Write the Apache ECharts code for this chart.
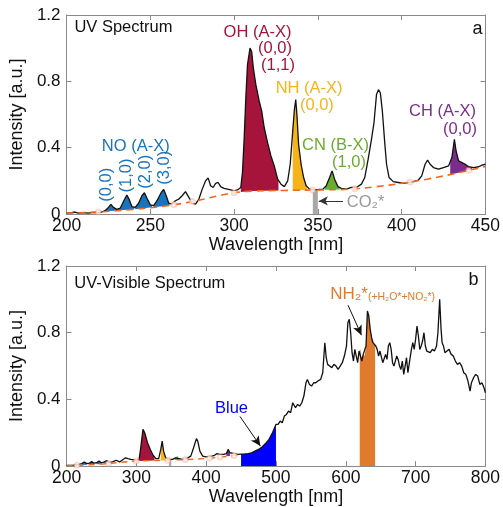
<!DOCTYPE html>
<html><head><meta charset="utf-8">
<script src="https://cdn.jsdelivr.net/npm/echarts@6/dist/echarts.min.js"></script>
<style>html,body{margin:0;padding:0;background:#fff}#c{width:503px;height:507px}</style>
</head><body><div id="c"></div>
<script>
// ---------- Panel a: UV spectrum ----------
const wavelengthA = [200,203,205,207,210,213,216,219,221,223,225,226.5,228,230,232,234,236,237.5,239,241,243,245,246.5,248,250,252,254,256.5,258,259.5,261,263,265,267,269,271,273,275,277,279,281,283,284.5,286,287.5,289,290.5,292,294,296,298,300,302,304,305,306,307,308,309.5,310.5,311.5,313,315,316.5,318,320,322,324,326,328,330,332,333.5,335,336,336.8,337.5,338.5,340,341.5,343,345,348,351,353,355,357,358.5,360,362,364,367,370,373,376,378,380,382,383.5,385,386.2,387.3,388.5,390,391,392.5,395,398,401,404,407,410,412,414,415.5,417,419,422,425,428,430,431.5,432.5,434,436,438,440,443,446,448,450];
const intensityA = [0.005,0.008,0.012,0.006,0.008,0.005,0.01,0.008,0.012,0.02,0.04,0.058,0.04,0.028,0.035,0.075,0.115,0.085,0.045,0.04,0.065,0.11,0.128,0.095,0.055,0.05,0.08,0.13,0.148,0.11,0.065,0.06,0.08,0.09,0.11,0.135,0.1,0.065,0.06,0.09,0.15,0.2,0.218,0.17,0.16,0.185,0.19,0.165,0.155,0.15,0.145,0.14,0.145,0.16,0.25,0.45,0.7,0.9,1.0,0.98,0.88,0.78,0.68,0.62,0.52,0.43,0.35,0.29,0.21,0.18,0.165,0.2,0.3,0.5,0.63,0.69,0.6,0.42,0.3,0.22,0.17,0.15,0.145,0.148,0.15,0.17,0.22,0.26,0.21,0.165,0.155,0.15,0.16,0.16,0.18,0.22,0.33,0.45,0.55,0.72,0.75,0.73,0.62,0.42,0.3,0.22,0.195,0.19,0.185,0.19,0.195,0.205,0.23,0.3,0.325,0.3,0.28,0.27,0.28,0.29,0.34,0.45,0.38,0.32,0.31,0.3,0.285,0.28,0.285,0.295,0.3];
const baselineAx = [200,220,240,260,275,290,300,310,330,350,370,385,400,415,430,450];
const baselineAy = [0.005,0.013,0.028,0.05,0.075,0.108,0.128,0.138,0.142,0.145,0.15,0.165,0.185,0.21,0.24,0.287];
const anchorAx = [219,264,275,300,347,372,405,440];
// band ranges [lo, hi] in nm
const bandNO = [[222,230.6],[230.6,240.5],[241,251],[252,261.5]];
const bandOH = [304,326.5];
const bandNH = [335,343.5];
const bandCN = [354,363];
const bandCH = [429,442];
const bandCO2 = [347,350];

// ---------- Panel b: UV-Visible spectrum ----------
const wavelengthB = [200,210,218,222,225.5,229,233,236,239,243,246.5,250,254,257.5,261,266,271,276,281,284.5,288,292,300,304,306,309.5,312,316,320,324,328,332,335,337,339,342,346,352,356,358.5,361,366,372,378,382,386,388,391,395,400,408,412,415.5,419,425,429,431.5,434,440,446,450,455,460,465,470,475,480,485,490,495,500,503,506,509,512,515,518,521,524,526,528,531,534,537,540,543,545,548,551,554,557,560,564,567,570,572,574,577,580,583,586,589,592,595,598,601,603,605,607,609,611,613,615,617,619,621,623,625,627,629,631,633,635,637,639,641,643,645,647,649,651,653,655,657,659,661,663,665,667,669,671,673,675,677,679,681,683,685,687,689,691,694,696,698,700,702,704,706,708,710,712,714,716,718,721,724,727,730,732,734.5,736.5,738,740,742,745,748,751,754,757,760,763,766,769,772,775,778,780,783,786,789,792,795,798,800];
const intensityB = [0.004,0.006,0.01,0.015,0.025,0.015,0.018,0.027,0.018,0.02,0.03,0.02,0.025,0.033,0.022,0.025,0.035,0.025,0.04,0.05,0.045,0.04,0.035,0.04,0.1,0.22,0.2,0.14,0.1,0.065,0.045,0.045,0.1,0.15,0.09,0.05,0.04,0.04,0.05,0.06,0.045,0.04,0.045,0.06,0.11,0.165,0.15,0.09,0.06,0.055,0.06,0.065,0.075,0.07,0.07,0.075,0.1,0.08,0.075,0.07,0.072,0.073,0.075,0.08,0.09,0.1,0.115,0.135,0.16,0.2,0.25,0.25,0.27,0.26,0.3,0.31,0.33,0.32,0.38,0.39,0.35,0.37,0.36,0.38,0.42,0.5,0.52,0.49,0.48,0.5,0.5,0.51,0.52,0.56,0.74,0.65,0.61,0.6,0.59,0.61,0.6,0.58,0.6,0.62,0.66,0.72,0.86,0.88,0.8,0.68,0.63,0.7,0.66,0.62,0.69,0.7,0.63,0.67,0.66,0.72,0.93,0.9,0.82,0.77,0.74,0.73,0.72,0.7,0.66,0.69,0.7,0.62,0.63,0.67,0.64,0.72,0.74,0.7,0.62,0.6,0.6,0.66,0.64,0.6,0.58,0.63,0.55,0.6,0.65,0.56,0.55,0.7,0.74,0.7,0.76,0.84,0.78,0.7,0.72,0.75,0.8,0.72,0.69,0.7,0.68,0.7,0.69,0.72,0.8,1.0,0.82,0.74,0.72,0.68,0.69,0.7,0.67,0.66,0.63,0.61,0.62,0.6,0.56,0.55,0.51,0.45,0.5,0.53,0.55,0.54,0.49,0.5,0.47,0.44];
const baselineBx = [200,250,300,350,400,445];
const baselineBy = [0.002,0.012,0.03,0.036,0.046,0.066];
const anchorBx = [215,260,300,345,370,405,420,440];
const bandNOb = [[222,229],[233,239],[243,250],[254,261]];
const bandOHb = [304,326];
const bandNHb = [335,342];
const bandCNb = [355,361];
const bandCHb = [429,434];
const bandCO2b = [347,350];
const bandBlue = [450,500];
const bandNH2 = [620,642];

// ---------- colours ----------
const C = {NO:'#1a74bd', OH:'#a6143c', NH:'#f6b41a', CN:'#6cac2d', CH:'#7e2b8e', CO2:'#a8a8a8', BLUE:'#0000ff', NH2:'#e07a2c', BASE:'#f2651f'};
const FONT = 'Liberation Sans, Arial, Helvetica, sans-serif';

function interp(xs, ys, x){
  if (x <= xs[0]) return ys[0];
  for (let i=1;i<xs.length;i++){
    if (x <= xs[i]){ const t=(x-xs[i-1])/(xs[i]-xs[i-1]); return ys[i-1]+t*(ys[i]-ys[i-1]); }
  }
  return ys[ys.length-1];
}
function bandPoly(xs, ys, lo, hi, bxs, bys){
  const top=[[lo,interp(xs,ys,lo)]];
  for(let i=0;i<xs.length;i++){ if(xs[i]>lo && xs[i]<hi) top.push([xs[i],ys[i]]); }
  top.push([hi,interp(xs,ys,hi)]);
  const bot=[];
  const bv = x => bxs ? interp(bxs,bys,x) : 0;
  bot.push([hi,bv(hi)]);
  if(bxs){ for(let i=bxs.length-1;i>=0;i--){ if(bxs[i]>lo && bxs[i]<hi) bot.push([bxs[i],bys[i]]); } }
  bot.push([lo,bv(lo)]);
  return top.concat(bot);
}
function rectPoly(lo, hi, bxs, bys){
  const t = interp(bxs,bys,(lo+hi)/2);
  return [[lo,0],[hi,0],[hi,t],[lo,t]];
}
function polySeries(poly, color, gi){
  return {type:'custom', xAxisIndex:gi*2, yAxisIndex:gi*2, silent:true, z:2,
    data:[[poly[0][0],poly[0][1]]],
    renderItem:function(params, api){
      return {type:'polygon', shape:{points:poly.map(p=>api.coord(p))}, style:{fill:color, stroke:null}};
    }};
}

const series = [];
bandNO.forEach(b=>series.push(polySeries(bandPoly(wavelengthA,intensityA,b[0],b[1],baselineAx,baselineAy),C.NO,0)));
series.push(polySeries(bandPoly(wavelengthA,intensityA,bandOH[0],bandOH[1],baselineAx,baselineAy),C.OH,0));
series.push(polySeries(bandPoly(wavelengthA,intensityA,bandNH[0],bandNH[1],baselineAx,baselineAy),C.NH,0));
series.push(polySeries(bandPoly(wavelengthA,intensityA,bandCN[0],bandCN[1],baselineAx,baselineAy),C.CN,0));
series.push(polySeries(bandPoly(wavelengthA,intensityA,bandCH[0],bandCH[1],baselineAx,baselineAy),C.CH,0));
series.push(polySeries(rectPoly(bandCO2[0],bandCO2[1],baselineAx,baselineAy),C.CO2,0));
bandNOb.forEach(b=>series.push(polySeries(bandPoly(wavelengthB,intensityB,b[0],b[1],baselineBx,baselineBy),C.NO,1)));
series.push(polySeries(bandPoly(wavelengthB,intensityB,bandOHb[0],bandOHb[1],baselineBx,baselineBy),C.OH,1));
series.push(polySeries(bandPoly(wavelengthB,intensityB,bandNHb[0],bandNHb[1],baselineBx,baselineBy),C.NH,1));
series.push(polySeries(bandPoly(wavelengthB,intensityB,bandCNb[0],bandCNb[1],baselineBx,baselineBy),C.CN,1));
series.push(polySeries(bandPoly(wavelengthB,intensityB,bandCHb[0],bandCHb[1],baselineBx,baselineBy),C.CH,1));
series.push(polySeries(rectPoly(bandCO2b[0],bandCO2b[1],baselineBx,baselineBy),C.CO2,1));
series.push(polySeries(bandPoly(wavelengthB,intensityB,bandBlue[0],bandBlue[1],null,null),C.BLUE,1));
series.push(polySeries(bandPoly(wavelengthB,intensityB,bandNH2[0],bandNH2[1],null,null),C.NH2,1));

const zip = (xs,ys)=>xs.map((x,i)=>[x,ys[i]]);
const arrowLine = (a,b)=>[{coord:a},{coord:b}];

series.push({type:'line', xAxisIndex:0, yAxisIndex:0, data:zip(wavelengthA,intensityA), showSymbol:false, z:4,
  lineStyle:{color:'#111', width:1.3}, silent:true,
  markLine:{silent:true, symbol:['none','arrow'], symbolSize:[7,9], label:{show:false},
    lineStyle:{color:'#333', width:1, type:'solid'},
    data:[arrowLine([365,0.079],[350.6,0.079])]}});
series.push({type:'line', xAxisIndex:2, yAxisIndex:2, data:zip(wavelengthB,intensityB), showSymbol:false, z:4,
  lineStyle:{color:'#111', width:1.3}, silent:true,
  markLine:{silent:true, symbol:['none','arrow'], symbolSize:[7,10], label:{show:false},
    lineStyle:{color:'#111', width:1, type:'solid'},
    data:[arrowLine([448.4,0.298],[477.7,0.12]), arrowLine([603.2,0.965],[622.5,0.785])]}});
series.push({type:'line', xAxisIndex:0, yAxisIndex:0, data:zip(baselineAx,baselineAy), showSymbol:false, smooth:0.4, z:5, silent:true,
  lineStyle:{color:C.BASE, width:1.6, type:[7,5]}});
series.push({type:'line', xAxisIndex:2, yAxisIndex:2, data:zip(baselineBx,baselineBy), showSymbol:false, smooth:0.4, z:5, silent:true,
  lineStyle:{color:C.BASE, width:1.4, type:[6,5]}});
series.push({type:'scatter', xAxisIndex:0, yAxisIndex:0, data:anchorAx.map(x=>[x,interp(baselineAx,baselineAy,x)]), symbol:'emptyCircle', symbolSize:5, z:6, silent:true,
  itemStyle:{color:'rgba(244,150,110,0.45)', borderColor:'rgba(244,150,110,0.45)', borderWidth:1}});
series.push({type:'scatter', xAxisIndex:2, yAxisIndex:2, data:anchorBx.map(x=>[x,interp(baselineBx,baselineBy,x)]), symbol:'emptyCircle', symbolSize:5, z:6, silent:true,
  itemStyle:{color:'rgba(244,150,110,0.45)', borderColor:'rgba(244,150,110,0.45)', borderWidth:1}});

const AX = '#8a8a8a';
function xAx(gi, min, max, interval, pos){
  const bottom = pos==='bottom';
  return {type:'value', gridIndex:gi, min, max, interval, position:pos,
    name: bottom ? 'Wavelength [nm]' : '', nameLocation:'middle', nameGap: gi===0 ? 22 : 20,
    nameTextStyle:{fontFamily:FONT, fontSize:18, color:'#111'},
    axisLine:{show:true, onZero:false, lineStyle:{color:AX, width:1}},
    axisTick:{show:true, inside:true, length:5, lineStyle:{color:AX}},
    axisLabel:{show:bottom, margin:3, fontFamily:FONT, fontSize:17.5, color:'#111'},
    splitLine:{show:false}};
}
function yAx(gi, pos){
  const left = pos==='left';
  return {type:'value', gridIndex:gi, min:0, max:1.2, interval:0.4, position:pos,
    name: left ? 'Intensity [a.u.]' : '', nameLocation:'middle', nameGap:27,
    nameTextStyle:{fontFamily:FONT, fontSize:18, color:'#111'},
    axisLine:{show:true, onZero:false, lineStyle:{color:AX, width:1}},
    axisTick:{show:true, inside:true, length:5, lineStyle:{color:AX}},
    axisLabel:{show:left, margin:6, fontFamily:FONT, fontSize:17, color:'#111'},
    splitLine:{show:false}};
}

const chart = echarts.init(document.getElementById('c'), null, {renderer:'canvas'});
chart.setOption({
  animation:false,
  backgroundColor:'#fff',
  grid:[{left:59, right:14, top:15, height:199},{left:59, right:14, top:266, height:201}],
  xAxis:[xAx(0,200,450,50,'bottom'), xAx(0,200,450,50,'top'), xAx(1,200,800,100,'bottom'), xAx(1,200,800,100,'top')],
  yAxis:[yAx(0,'left'), yAx(0,'right'), yAx(1,'left'), yAx(1,'right')],
  series
});

function P(gi, x, y){ return chart.convertToPixel({xAxisIndex:gi*2, yAxisIndex:gi*2}, [x,y]); }
function txt(gi, x, y, text, color, opts){
  opts = opts||{};
  const p = P(gi,x,y);
  return {type:'text', x:p[0], y:p[1], rotation:opts.rot||0, z:10, silent:true,
    style:{text, fill:color, font:(opts.size||16.5)+'px '+FONT, align:opts.align||'center', verticalAlign:'middle', rich:opts.rich}};
}
const labelsA = [
  {x:204.7, y:1.127, t:'UV Spectrum', c:'#111', align:'left'},
  {x:448.3, y:1.115, t:'a', c:'#111', align:'right', size:18},
  {x:241.3, y:0.41, t:'NO (A-X)', c:C.NO},
  {x:314.0, y:1.094, t:'OH (A-X)', c:C.OH},
  {x:324.4, y:1.0, t:'(0,0)', c:C.OH},
  {x:326.2, y:0.897, t:'(1,1)', c:C.OH},
  {x:344.8, y:0.758, t:'NH (A-X)', c:C.NH},
  {x:349.4, y:0.655, t:'(0,0)', c:C.NH},
  {x:360.5, y:0.412, t:'CN (B-X)', c:C.CN},
  {x:368.6, y:0.309, t:'(1,0)', c:C.CN},
  {x:424.4, y:0.618, t:'CH (A-X)', c:C.CH},
  {x:434.8, y:0.509, t:'(0,0)', c:C.CH},
  {x:367.3, y:0.072, t:'CO\u2082*', c:'#999', align:'left'}
];
const rotA = [
  {x:223.8, y:0.176, t:'(0,0)'},
  {x:235.5, y:0.232, t:'(1,0)'},
  {x:247.1, y:0.255, t:'(2,0)'},
  {x:258.7, y:0.279, t:'(3,0)'}
];
const graphics = [];
labelsA.forEach(l=>graphics.push(txt(0,l.x,l.y,l.t,l.c,{align:l.align,size:l.size})));
rotA.forEach(l=>graphics.push(txt(0,l.x,l.y,l.t,C.NO,{rot:Math.PI/2})));
graphics.push(txt(1,211.2,1.098,'UV-Visible Spectrum','#111',{align:'left'}));
graphics.push(txt(1,790.0,1.117,'b','#111',{align:'right',size:18}));
graphics.push(txt(1,436.3,0.346,'Blue',C.BLUE,{}));
graphics.push(txt(1,577.6,1.032,'{a|NH\u2082*}{b|(+H\u2082O*+NO\u2082*)}',C.NH2,{align:'left',
  rich:{a:{fontSize:17, fontFamily:FONT, fill:C.NH2}, b:{fontSize:10.5, fontFamily:FONT, fill:C.NH2, padding:[6,0,0,0]}}}));
chart.setOption({graphic:graphics});
</script>
</body></html>
